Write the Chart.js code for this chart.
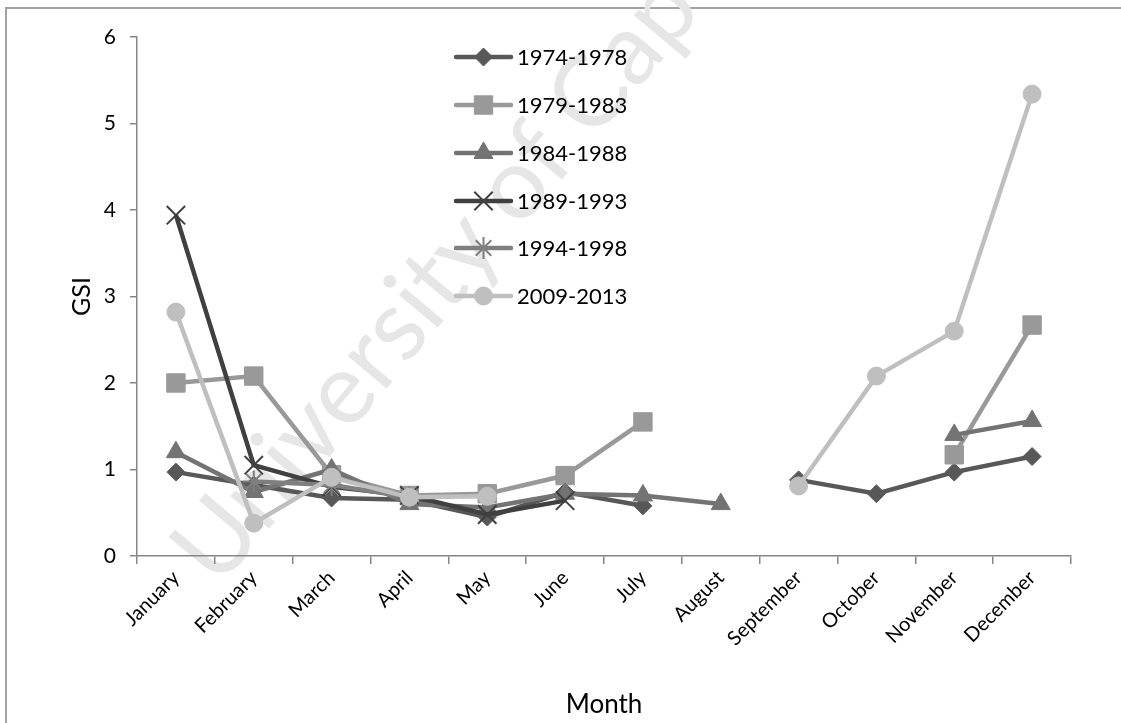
<!DOCTYPE html>
<html lang="en">
<head>
    <meta charset="UTF-8">
    <title>GSI by Month</title>
    <script src="https://cdn.jsdelivr.net/npm/chart.js"></script>
    <style>
        body {
            margin: 0;
            background: #fff;
            overflow: hidden;
        }
        #wrap {
            position: absolute;
            left: 0;
            top: 0;
            width: 1121px;
            height: 723px;
            overflow: hidden;
        }
        #frame {
            position: absolute;
            left: 5px;
            top: 7px;
            right: -10px;
            bottom: -10px;
            border-left: 2px solid #a3a3a3;
            border-top: 2px solid #a3a3a3;
        }
        #watermark {
            position: absolute;
            left: 150px;
            top: 532px;
            transform-origin: 0 0;
            transform: rotate(-50deg);
            font-family: Lato, sans-serif;
            font-size: 100px;
            color: #e6e6e6;
            white-space: nowrap;
            line-height: 1;
        }
        canvas {
            position: absolute;
            left: 0;
            top: 0;
        }
    </style>
</head>
<body>
<div id="wrap">
    <div id="frame"></div>
    <div id="watermark">University of Cape Town</div>
    <canvas id="gsiChart" width="1121" height="723"></canvas>
</div>

<script>
    // months on the x axis
    const months = ["January", "February", "March", "April", "May", "June",
        "July", "August", "September", "October", "November", "December"];

    // GSI per period (null = no sample that month)
    const gsi1974 = [0.97, 0.82, 0.67, 0.65, 0.45, 0.74, 0.58, null, 0.88, 0.72, 0.97, 1.15];
    const gsi1979 = [2.00, 2.08, 0.94, 0.70, 0.72, 0.93, 1.55, null, null, null, 1.17, 2.67];
    const gsi1984 = [1.20, 0.74, 1.00, 0.60, 0.56, 0.72, 0.70, 0.60, null, null, 1.40, 1.56];
    const gsi1989 = [3.94, 1.05, 0.80, 0.70, 0.48, 0.64, null, null, null, null, null, null];
    const gsi1994 = [null, 0.86, 0.82, 0.68, null, null, null, null, null, null, null, null];
    const gsi2009 = [2.82, 0.38, 0.91, 0.68, 0.69, null, null, null, 0.81, 2.08, 2.60, 5.34];

    const yTicks = [0, 1, 2, 3, 4, 5, 6];

    const series = [
        { label: "1974-1978", data: gsi1974, color: "#585858", style: "rectRot", radius: 9 },
        { label: "1979-1983", data: gsi1979, color: "#999999", style: "rect", radius: 13 },
        { label: "1984-1988", data: gsi1984, color: "#737373", style: "triangle", radius: 11 },
        { label: "1989-1993", data: gsi1989, color: "#404040", style: "crossRot", radius: 13 },
        { label: "1994-1998", data: gsi1994, color: "#7f7f7f", style: "star", radius: 11 },
        { label: "2009-2013", data: gsi2009, color: "#bfbfbf", style: "circle", radius: 9 }
    ];

    const isOpen = s => s === "crossRot" || s === "star";

    const datasets = series.map((s, i) => ({
        label: s.label,
        data: s.data,
        borderColor: s.color,
        backgroundColor: s.color,
        borderWidth: 4.5,
        pointStyle: s.style,
        pointRadius: s.radius,
        pointHoverRadius: s.radius,
        pointBackgroundColor: s.color,
        pointBorderColor: s.color,
        pointBorderWidth: isOpen(s.style) ? 2 : 1,
        spanGaps: false,
        tension: 0,
        order: series.length - 1 - i   // later series on top, like the original
    }));

    // legend drawn inside the plot, top middle
    const insideLegend = {
        id: "insideLegend",
        afterDatasetsDraw(chart) {
            const ctx = chart.ctx;
            const x0 = 456, x1 = 511, tx = 517;
            const rows = [57, 105, 153, 201, 248, 296];
            ctx.save();
            series.forEach((s, i) => {
                const y = rows[i];
                ctx.strokeStyle = s.color;
                ctx.lineWidth = 4.5;
                ctx.lineCap = "round";
                ctx.beginPath();
                ctx.moveTo(x0, y);
                ctx.lineTo(x1, y);
                ctx.stroke();
                ctx.lineCap = "butt";
                ctx.fillStyle = s.color;
                ctx.strokeStyle = s.color;
                ctx.lineWidth = isOpen(s.style) ? 2 : 1;
                Chart.helpers.drawPoint(ctx, {
                    pointStyle: s.style,
                    radius: s.radius,
                    rotation: 0,
                    borderWidth: isOpen(s.style) ? 2 : 1
                }, (x0 + x1) / 2, y);
                ctx.fillStyle = "#000";
                ctx.font = "22px Lato";
                ctx.textBaseline = "middle";
                ctx.textAlign = "left";
                ctx.fillText(s.label, tx, y + 1);
            });
            ctx.restore();
        }
    };

    const ctx = document.getElementById("gsiChart").getContext("2d");
    const chart = new Chart(ctx, {
        type: "line",
        data: {
            labels: months,
            datasets: datasets
        },
        options: {
            responsive: false,
            animation: false,
            events: [],
            layout: {
                padding: { top: 37, right: 50, bottom: 0, left: 0 }
            },
            plugins: {
                legend: { display: false },
                tooltip: { enabled: false }
            },
            scales: {
                x: {
                    offset: true,
                    grid: {
                        display: true,
                        offset: true,
                        drawOnChartArea: false,
                        drawTicks: true,
                        tickLength: 8,
                        color: "#868686",
                        lineWidth: 1.5
                    },
                    border: { color: "#868686", width: 1.5 },
                    ticks: {
                        color: "#000",
                        font: { family: "Lato", size: 20 },
                        maxRotation: 45,
                        minRotation: 45,
                        padding: 2,
                        autoSkip: false
                    },
                    title: {
                        display: true,
                        text: "Month",
                        color: "#000",
                        font: { family: "Lato", size: 26 },
                        padding: { top: 0, bottom: 3 }
                    },
                    afterFit(scale) {
                        scale.height = 167;
                    }
                },
                y: {
                    min: 0,
                    max: 6,
                    afterBuildTicks(scale) {
                        scale.ticks = yTicks.map(v => ({ value: v }));
                    },
                    grid: {
                        display: true,
                        drawOnChartArea: false,
                        drawTicks: true,
                        tickLength: 7,
                        color: "#868686",
                        lineWidth: 1.5
                    },
                    border: { color: "#868686", width: 1.5 },
                    ticks: {
                        color: "#000",
                        font: { family: "Lato", size: 21 },
                        padding: 14
                    },
                    title: {
                        display: true,
                        text: "GSI",
                        color: "#000",
                        font: { family: "Lato", size: 25 },
                        padding: { top: 67, bottom: 0 }
                    },
                    afterFit(scale) {
                        scale.width = 137;
                    }
                }
            }
        },
        plugins: [insideLegend]
    });
</script>
</body>
</html>
